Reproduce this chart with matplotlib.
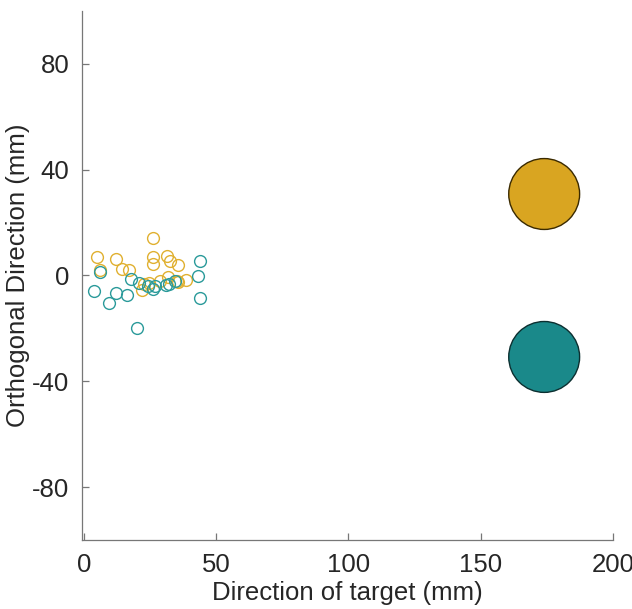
import matplotlib.pyplot as plt
from matplotlib.patches import Circle

plt.rcParams['font.family'] = ['Liberation Sans', 'DejaVu Sans']
plt.rcParams['axes.unicode_minus'] = False

# trial end points (mm)
yellow_x = [5.0, 12.1, 26.0, 26.0, 26.0, 31.3, 32.6, 35.7, 14.3, 17.2, 6.1,
            22.8, 22.1, 28.8, 31.9, 35.1, 38.6, 35.7, 24.5]
yellow_y = [6.9, 6.3, 14.2, 6.9, 4.4, 7.3, 5.5, 3.9, 2.5, 2.0, 1.9,
            -3.3, -5.3, -2.0, -0.5, -2.1, -1.8, -2.6, -3.0]
teal_x = [6.1, 4.0, 9.4, 12.1, 16.2, 17.8, 21.0, 24.4, 20.1, 26.3, 26.7,
          31.0, 32.3, 34.5, 43.3, 43.9, 43.7]
teal_y = [1.3, -6.0, -10.3, -6.5, -7.3, -1.4, -3.0, -4.0, -20.0, -5.0, -3.9,
          -3.7, -3.4, -2.2, -0.1, 5.5, -8.5]

# targets
target_x = [174, 174]
target_y = [30.8, -30.8]
target_r = 13.4
target_face = ['#D9A521', '#1A898A']
target_edge = ['#3a2a00', '#0c2f30']

yellow = '#E0B030'
teal = '#2A9A9A'

fig = plt.figure(figsize=(6.32, 6.09), dpi=100)
ax = fig.add_axes([0.1297, 0.1133, 0.8403, 0.8687])

ax.plot(yellow_x, yellow_y, 'o', mfc='none', mec=yellow, ms=8.5, mew=1.0)
ax.plot(teal_x, teal_y, 'o', mfc='none', mec=teal, ms=8.5, mew=1.0)

for cx, cy, fc, ec in zip(target_x, target_y, target_face, target_edge):
    ax.add_patch(Circle((cx, cy), target_r, facecolor=fc, edgecolor=ec, lw=1.0))

ax.set_xlim(-0.7, 200)
ax.set_ylim(-100, 100)
ax.set_aspect('equal')
ax.set_xticks([0, 50, 100, 150, 200])
ax.set_yticks([-80, -40, 0, 40, 80])

for s in ['top', 'right']:
    ax.spines[s].set_visible(False)
for s in ['left', 'bottom']:
    ax.spines[s].set_color('#777777')
    ax.spines[s].set_linewidth(0.9)
ax.tick_params(direction='in', length=5, width=0.9, color='#777777',
               labelsize=18.5, labelcolor='#262626', pad=9)

ax.set_xlabel('Direction of target (mm)', fontsize=18.5, color='#262626', labelpad=3)
ax.set_ylabel('Orthogonal Direction (mm)', fontsize=18.5, color='#262626', labelpad=2)

fig.savefig('out.png', dpi=100)
